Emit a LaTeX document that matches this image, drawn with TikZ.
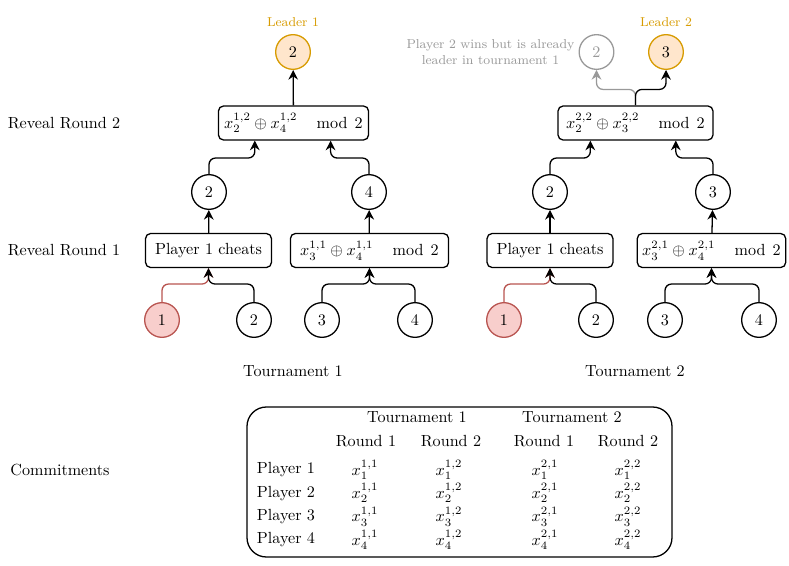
\documentclass[tikz,border=0pt]{standalone}
\usepackage{amsmath,amssymb}
\usetikzlibrary{arrows.meta,positioning}
\definecolor{leadline}{HTML}{D79B00}
\definecolor{leadfill}{HTML}{FFE6CC}
\definecolor{cheatline}{HTML}{B85450}
\definecolor{cheatfill}{HTML}{F8CECC}
\definecolor{gonegrey}{HTML}{999999}
\newcommand{\xorsum}[3]{$x_{#1}^{#3}\oplus x_{#2}^{#3}\hspace{12pt}\mathrm{mod}\;\,2$}
\tikzset{
  box/.style={draw, rectangle, rounded corners=3pt, align=center, minimum height=21pt, inner sep=3pt, fill=white, line width=0.8pt},
  ply/.style={draw, circle, minimum size=21.5pt, inner sep=0pt, line width=0.8pt, fill=white},
  lead/.style={ply, draw=leadline, fill=leadfill},
  cheat/.style={ply, draw=cheatline, fill=cheatfill},
  gone/.style={ply, draw=gonegrey, text=gonegrey},
  arr/.style={-{Stealth[length=6pt,width=6pt,inset=2pt]}, line width=0.8pt, rounded corners=4pt},
  lbl/.style={font=\footnotesize, text=leadline},
  rowh/.style={align=center},
}
\begin{document}
\begin{tikzpicture}[x=0.62pt,y=-0.62pt]
\useasboundingbox (0,0) rectangle (789,565);
% tournament 1
\node[lbl] (t1lab) at (293,22) {Leader 1};
\node[lead] (t1win) at (293,52) {2};
\node[box, minimum width=93pt] (t1r2) at (293.5,123) {\xorsum{2}{4}{1,2}};
\node[ply] (t1w1) at (209,192) {2};
\node[ply] (t1w2) at (369,192) {4};
\node[box, minimum width=78pt] (t1ch) at (208.5,250.5) {Player 1 cheats};
\node[box, minimum width=98pt] (t1r1) at (369.5,250.5) {\xorsum{3}{4}{1,1}};
\node[cheat] (t1p1) at (162,320) {1};
\node[ply] (t1p2) at (254,320) {2};
\node[ply] (t1p3) at (322,320) {3};
\node[ply] (t1p4) at (415,320) {4};
\node (t1name) at (293,371) {Tournament 1};
\draw[arr, cheatline] (t1p1.north) -- ++(0,-18) -| (t1ch.south);
\draw[arr] (t1p2.north) -- ++(0,-18) -| (t1ch.south);
\draw[arr] (t1p3.north) -- ++(0,-18) -| (t1r1.south);
\draw[arr] (t1p4.north) -- ++(0,-18) -| (t1r1.south);
\draw[arr] (t1ch) -- (t1w1);
\draw[arr] (t1r1) -- (t1w2);
\draw[arr] (t1w1.north) -- ++(0,-16) -| ([xshift=-24pt]t1r2.south);
\draw[arr] (t1w2.north) -- ++(0,-16) -| ([xshift=23pt]t1r2.south);
\draw[arr] (t1r2) -- (t1win);
% tournament 2
\node[lbl] (t2lab) at (666,22) {Leader 2};
\node[lead] (t2win) at (666,52) {3};
\node[gone] (t2no) at (596.5,52) {2};
\node[font=\footnotesize, text=gonegrey, align=center, left=-1pt of t2no] (t2note) {Player 2 wins but is already\\leader in tournament 1};
\node[box, minimum width=96pt] (t2r2) at (635.5,123) {\xorsum{2}{3}{2,2}};
\node[ply] (t2w1) at (550,192) {2};
\node[ply] (t2w2) at (713,192) {3};
\node[box, minimum width=78pt] (t2ch) at (550,250.5) {Player 1 cheats};
\node[box, minimum width=91pt] (t2r1) at (711.5,250.5) {\xorsum{3}{4}{2,1}};
\node[cheat] (t2p1) at (504,320) {1};
\node[ply] (t2p2) at (596,320) {2};
\node[ply] (t2p3) at (665,320) {3};
\node[ply] (t2p4) at (759,320) {4};
\node (t2name) at (635,371) {Tournament 2};
\draw[arr, cheatline] (t2p1.north) -- ++(0,-18) -| (t2ch.south);
\draw[arr] (t2p2.north) -- ++(0,-18) -| (t2ch.south);
\draw[arr] (t2p3.north) -- ++(0,-18) -| (t2r1.south);
\draw[arr] (t2p4.north) -- ++(0,-18) -| (t2r1.south);
\draw[arr] (t2ch) -- (t2w1);
\draw[arr] (t2r1) -- (t2w2);
\draw[arr] (t2w1.north) -- ++(0,-16) -| ([xshift=-28pt]t2r2.south);
\draw[arr] (t2w2.north) -- ++(0,-16) -| ([xshift=25pt]t2r2.south);
\draw[arr, gonegrey] (t2r2.north) -- ++(0,-16) -| (t2no.south);
\draw[arr] (t2r2.north) -- ++(0,-16) -| (t2win.south);
% row labels
\node (rr2) at (64,123) {Reveal Round 2};
\node (rr1) at (64,250) {Reveal Round 1};
\node (cmt) at (60,470) {Commitments};
% commitment table
\draw[line width=0.8pt, rounded corners=12pt] (247,407) rectangle (672,557);
\node (h1) at (417,417) {Tournament 1};
\node (h2) at (572,417) {Tournament 2};
\foreach \t/\k/\cx in {1/1/366, 1/2/451, 2/1/544, 2/2/628} {
  \node (r\t\k) at (\cx,441) {Round \k};
}
\foreach \p [count=\r] in {1,2,3,4} {
  \node (pl\p) at (286,470+23.3*\r-23.3) {Player \p};
  \foreach \t/\k/\cx in {1/1/365, 1/2/449, 2/1/545, 2/2/628} {
    \node (c\t\k\p) at (\cx,470+23.3*\r-23.3) {$x_{\p}^{\t,\k}$};
  }
}
\end{tikzpicture}
\end{document}
